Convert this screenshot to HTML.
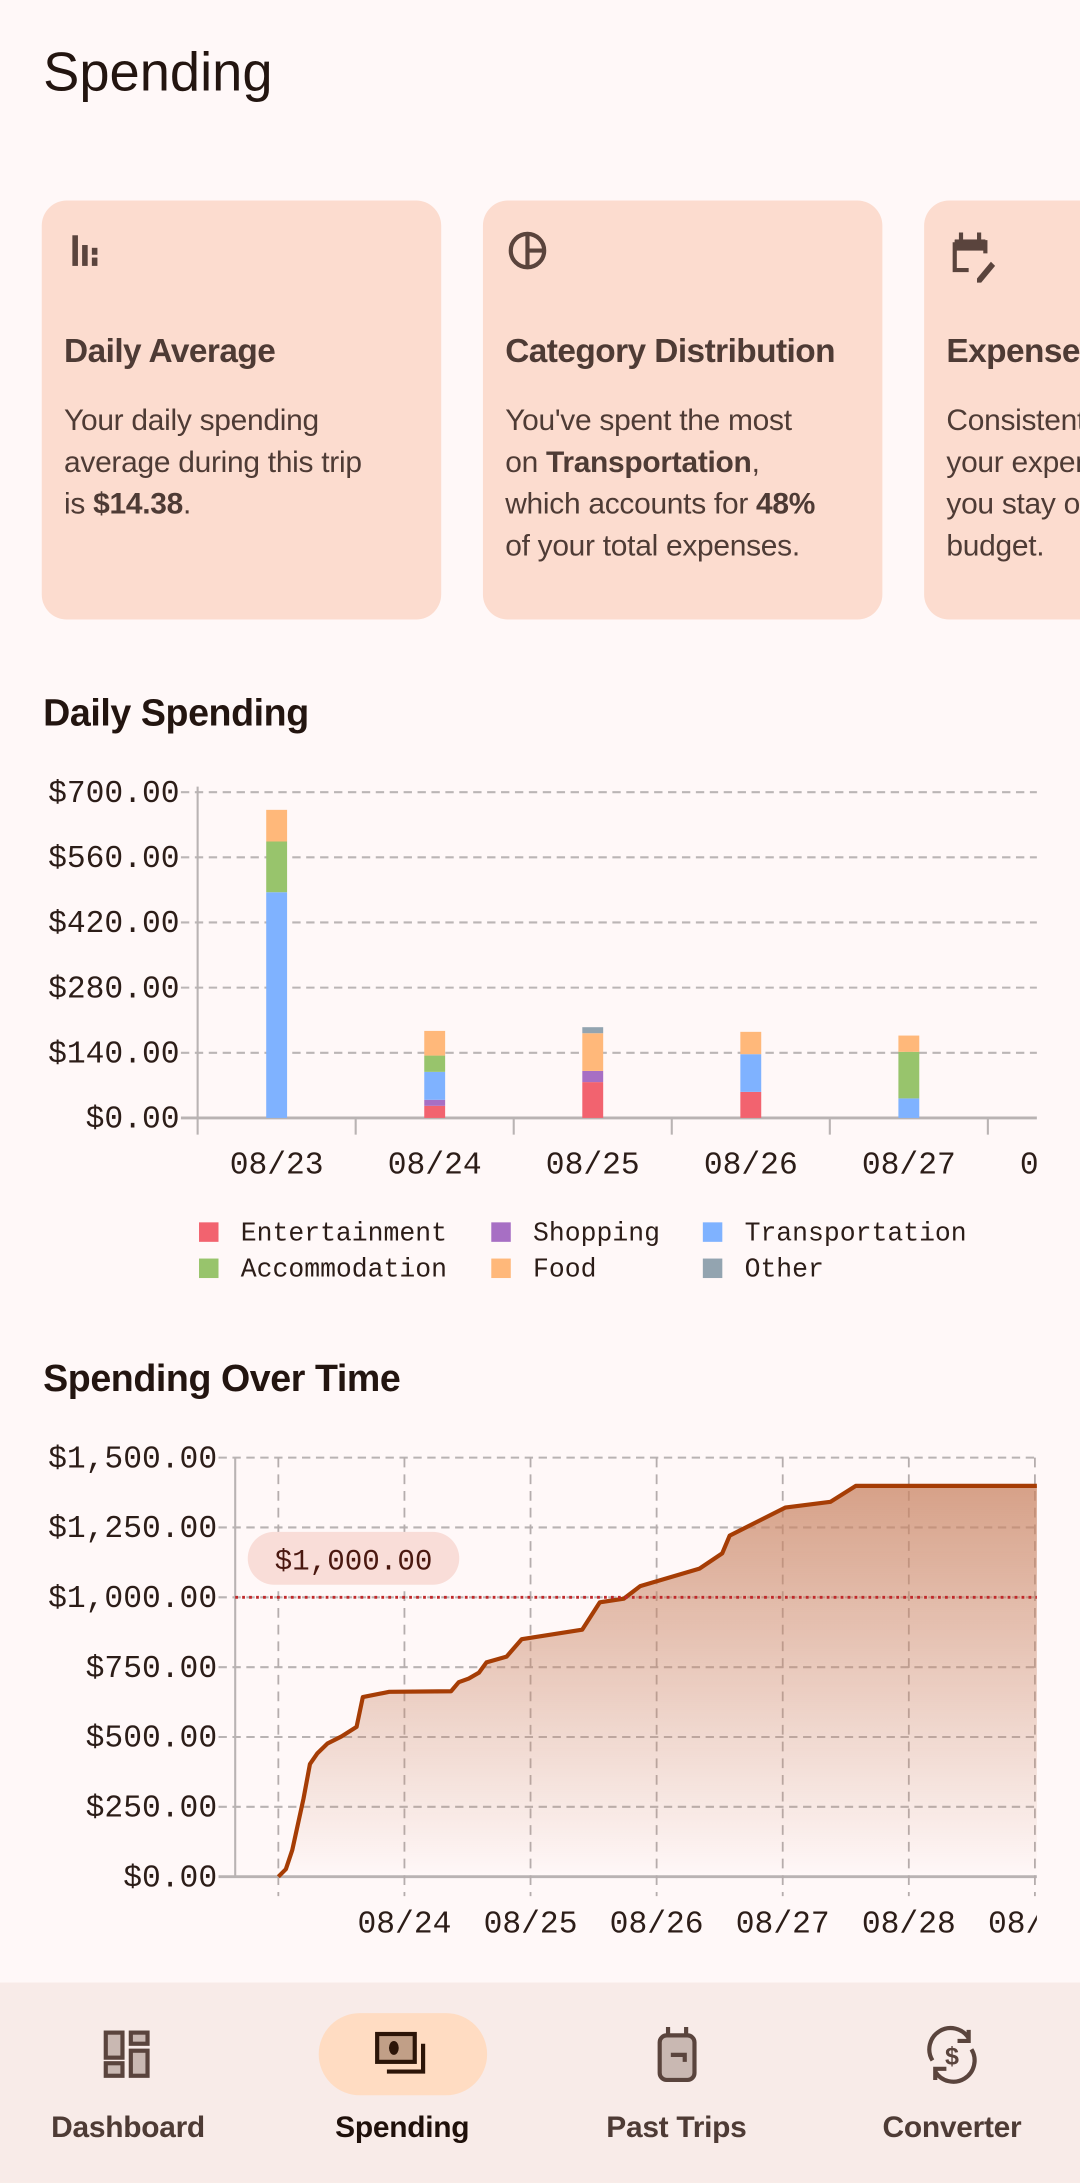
<!DOCTYPE html>
<html><head><meta charset="utf-8">
<style>
html,body{margin:0;padding:0;background:#fff8f8;}
body{width:1080px;height:2183px;overflow:hidden;position:relative;}
#wrap{position:absolute;left:0;top:0;width:776px;height:1568px;overflow:hidden;transform:scale(1.39175,1.3922);transform-origin:0 0;font-family:"Liberation Sans",sans-serif;color:#3a2a25;}
.abs{position:absolute;}
.card{position:absolute;top:144px;width:287px;height:301px;background:#fcdccf;border-radius:18px;overflow:hidden;}
.card h3{position:absolute;left:16px;top:95px;margin:0;font-size:24px;font-weight:bold;color:#4e3b35;white-space:nowrap;letter-spacing:-0.4px}
.card p{position:absolute;left:16px;top:143px;margin:0;font-size:21.5px;line-height:30px;color:#4e3b35;width:290px;white-space:nowrap;letter-spacing:-0.2px}
.card svg{position:absolute;left:16px;top:20px}
.sec{position:absolute;left:31px;font-size:27px;font-weight:bold;color:#231510;margin:0;letter-spacing:-0.3px}
.nav{position:absolute;left:0;top:1424px;width:776px;height:144px;background:#f8ebe8}
.ni{position:absolute;top:1516px;font-size:21.5px;font-weight:bold;color:#4e3b35;transform:translateX(-50%);white-space:nowrap;letter-spacing:-0.2px}
</style></head><body>
<div id="wrap">
<div class="abs" style="left:31px;top:31px;font-size:39px;color:#231510">Spending</div>

<div class="card" style="left:30px">
<svg width="32" height="32" viewBox="0 0 32 32"><g fill="#5a443d"><rect x="6" y="5" width="4" height="22"/><rect x="13" y="12" width="4" height="15"/><rect x="20" y="14" width="4" height="5"/><rect x="20" y="21" width="4" height="6"/></g></svg>
<h3>Daily Average</h3>
<p>Your daily spending<br>average during this trip<br>is <b>$14.38</b>.</p>
</div>
<div class="card" style="left:347px">
<svg width="32" height="32" viewBox="0 0 32 32"><circle cx="16" cy="16" r="12" fill="none" stroke="#5a443d" stroke-width="3"/><line x1="16" y1="4" x2="16" y2="28" stroke="#5a443d" stroke-width="3"/><line x1="16" y1="16" x2="28" y2="16" stroke="#5a443d" stroke-width="3"/></svg>
<h3>Category Distribution</h3>
<p>You've spent the most<br>on <b>Transportation</b>,<br>which accounts for <b>48%</b><br>of your total expenses.</p>
</div>
<div class="card" style="left:664px">
<svg width="40" height="40" viewBox="0 0 40 40"><g fill="none" stroke="#5a443d" stroke-width="3"><path d="M6 10h22v8M6 10v20h10"/></g><rect x="6" y="8" width="22" height="8" fill="#5a443d"/><rect x="9" y="3" width="3" height="7" fill="#5a443d"/><rect x="22" y="3" width="3" height="7" fill="#5a443d"/><path d="M22 36l10-12 3 3-10 12h-3z" fill="#5a443d"/></svg>
<h3>Expense Tracking</h3>
<p>Consistently tracking<br>your expenses helps<br>you stay on your<br>budget.</p>
</div>

<div class="sec" style="top:497px">Daily Spending</div>
<svg class="abs" id="bar" style="left:0;top:540px" width="776" height="400"></svg>

<div class="sec" style="top:975px">Spending Over Time</div>
<svg class="abs" id="line" style="left:0;top:1030px" width="776" height="380"></svg>

<div class="nav"></div>
<div class="abs" style="left:229px;top:1446px;width:121px;height:59px;border-radius:30px;background:#ffdcc2"></div>
<svg class="abs" style="left:72px;top:1456px" width="40" height="40" viewBox="0 0 40 40"><g fill="#c9b8b2" stroke="#5a443d" stroke-width="3"><rect x="4" y="4" width="12" height="18"/><rect x="22" y="4" width="12" height="8"/><rect x="4" y="26" width="12" height="9"/><rect x="22" y="17" width="12" height="18"/></g></svg>
<svg class="abs" style="left:268px;top:1458px" width="44" height="40" viewBox="0 0 44 40"><rect x="3" y="3" width="27" height="20" fill="#c19f87" stroke="#2c1508" stroke-width="3"/><ellipse cx="15" cy="13" rx="3.5" ry="5" fill="#2c1508"/><path d="M36 10v20H10" fill="none" stroke="#2c1508" stroke-width="3"/></svg>
<svg class="abs" style="left:468px;top:1454px" width="40" height="44" viewBox="0 0 40 44"><rect x="6" y="8" width="25" height="32" rx="5" fill="#c9b8b2" stroke="#5a443d" stroke-width="3"/><path d="M12 8V2M25 8V2" stroke="#5a443d" stroke-width="3"/><path d="M14 22h10v5" fill="none" stroke="#5a443d" stroke-width="3"/></svg>
<svg class="abs" style="left:662px;top:1454px" width="44" height="44" viewBox="0 0 44 44"><g fill="none" stroke="#5a443d" stroke-width="3"><path d="M8 26A14 14 0 0 1 34 10"/><path d="M36 18A14 14 0 0 1 10 34"/><path d="M34 4v8h-8M10 40v-8h8"/></g><text x="22" y="29" font-size="18" font-weight="bold" text-anchor="middle" fill="#5a443d" font-family="Liberation Sans">$</text></svg>
<div class="ni" style="left:92px">Dashboard</div>
<div class="ni" style="left:289px;color:#1f100a">Spending</div>
<div class="ni" style="left:486px">Past Trips</div>
<div class="ni" style="left:684px">Converter</div>
</div>

<script>
const NS="http://www.w3.org/2000/svg";
// ---- Daily spending data ----
const barDays=["08/23","08/24","08/25","08/26","08/27","08/28"];
const categories=["Entertainment","Shopping","Transportation","Accommodation","Food","Other"];
const catColors=["#f2636f","#a76fc4","#7fb2ff","#98c46c","#ffb87a","#93a4b0"];
const entertainment=[0,26,77,56,0,0];
const shopping=[0,13,24,0,0,0];
const transportation=[485,60,0,81,42,0];
const accommodation=[109,35,0,0,100,0];
const food=[68,53,81,48,35,0];
const other=[0,0,13,0,0,0];
const barTicks=[0,140,280,420,560,700];
const barTickLabels=["$0.00","$140.00","$280.00","$420.00","$560.00","$700.00"];

function mk(parent,tag,attrs){const e=document.createElementNS(NS,tag);for(const k in attrs)e.setAttribute(k,attrs[k]);parent.appendChild(e);return e;}
const MONO='Liberation Mono, DejaVu Sans Mono, monospace';

(function(){
const svg=document.getElementById('bar');
const x0=142,x1=745,yTop=29,yBot=263,ymax=700;
const bw=(x1-x0)/5.31;
const Y=v=>yBot-(v/ymax)*(yBot-yTop);
const X=i=>x0+bw*(i+0.5);
const defs=mk(svg,'defs',{});
const cp=mk(defs,'clipPath',{id:'cb'});
mk(cp,'rect',{x:0,y:0,width:745,height:400});
barTicks.forEach((t,i)=>{
  const g=mk(svg,'line',{x1:x0-12,x2:x1,y1:Y(t),y2:Y(t),stroke:i==0?'#b9b3b3':'#bbb5b5','stroke-width':i==0?2:1.5,'stroke-dasharray':i==0?'':'6 4'});
  
  
  const tx=mk(svg,'text',{x:129,y:Y(t)+7,'text-anchor':'end','font-size':22.5,fill:'#2c1d18','font-family':MONO});
  tx.textContent=barTickLabels[i];
  
  
});
mk(svg,'line',{x1:x0,x2:x0,y1:yTop-4,y2:yBot+12,stroke:'#b9b3b3','stroke-width':1.5});
const series=[entertainment,shopping,transportation,accommodation,food,other];
const lg=mk(svg,'g',{'clip-path':'url(#cb)'});
barDays.forEach((d,i)=>{
  const tk=mk(svg,'line',{x1:x0+bw*(i+1),x2:x0+bw*(i+1),y1:yBot,y2:yBot+12,stroke:'#b9b3b3','stroke-width':1.5});
  
  
  const lb=mk(lg,'text',{x:X(i),y:yBot+40,'text-anchor':'middle','font-size':22.5,fill:'#2c1d18','font-family':MONO});
  lb.textContent=d;
  
  
  let acc=0;
  series.forEach((s,k)=>{
    const v=s[i]; if(!v)return;
    const r=mk(svg,'rect',{x:X(i)-7.5,y:Y(acc+v),width:15,height:Y(acc)-Y(acc+v),fill:catColors[k]});
    
    
    acc+=v;
  });
});
categories.forEach((c,k)=>{
  const col=k%3,row=Math.floor(k/3);
  const lx=[143,353,505][col], ly=338+row*26;
  const sw=mk(svg,'rect',{x:lx,y:ly,width:14,height:14,fill:catColors[k]});
  
  
  const t=mk(svg,'text',{x:lx+30,y:ly+13,'font-size':19,fill:'#2c1d18','font-family':MONO});
  t.textContent=c;
  
  
});
})();

// ---- Spending over time data ----
const lineDays=["08/23","08/24","08/25","08/26","08/27","08/28","08/29"];
const cumDayOffsets=[0,0.06,0.11,0.2,0.25,0.31,0.39,0.5,0.62,0.67,0.88,1.37,1.43,1.51,1.59,1.65,1.81,1.93,2.41,2.55,2.74,2.87,3.34,3.52,3.58,4.02,4.38,4.58,6.02];
const cumValues=[0,27,95,280,403,442,477,502,536,643,662,664,696,709,730,767,788,850,884,982,995,1040,1103,1157,1221,1321,1342,1399,1399];
const lineTicks=[0,250,500,750,1000,1250,1500];
const lineTickLabels=["$0.00","$250.00","$500.00","$750.00","$1,000.00","$1,250.00","$1,500.00"];
const budget=1000;
const budgetLabel="$1,000.00";

(function(){
const svg=document.getElementById('line');
const x0=169,x1=745,yTop=17,yBot=318,ymax=1500,dx0=200,dw=90.6;
const Y=v=>yBot-(v/ymax)*(yBot-yTop);
const X=d=>dx0+d*dw;
const defs=mk(svg,'defs',{});
const gr=mk(defs,'linearGradient',{id:'gf',x1:0,y1:0,x2:0,y2:1});
mk(gr,'stop',{offset:0,'stop-color':'#c98463','stop-opacity':0.75});
mk(gr,'stop',{offset:1,'stop-color':'#c98463','stop-opacity':0});
const cp=mk(defs,'clipPath',{id:'cl'});
mk(cp,'rect',{x:0,y:0,width:745,height:380});
lineTicks.forEach((t,i)=>{
  const g=mk(svg,'line',{x1:x0-12,x2:x1,y1:Y(t),y2:Y(t),stroke:'#b9b3b3','stroke-width':i==0?2:1.5,'stroke-dasharray':i==0?'':'6 4'});
  
  
  const tx=mk(svg,'text',{x:156,y:Y(t)+7,'text-anchor':'end','font-size':22.5,fill:'#2c1d18','font-family':MONO});
  tx.textContent=lineTickLabels[i];
  
  
});
mk(svg,'line',{x1:x0,x2:x0,y1:yTop,y2:yBot,stroke:'#b9b3b3','stroke-width':1.5});
const lg=mk(svg,'g',{'clip-path':'url(#cl)'});
lineDays.forEach((d,i)=>{
  const vl=mk(svg,'line',{x1:X(i),x2:X(i),y1:yTop,y2:yBot+14,stroke:'#b5adad','stroke-width':1.3,'stroke-dasharray':'7 5'});
  
  
  if(i>0){
    const lb=mk(lg,'text',{x:X(i),y:yBot+40,'text-anchor':'middle','font-size':22.5,fill:'#2c1d18','font-family':MONO});
    lb.textContent=d;
    
    
  }
});
let pts=cumDayOffsets.map((d,i)=>Math.min(X(d),x1).toFixed(1)+','+Y(cumValues[i]).toFixed(1));
const area=mk(svg,'path',{d:'M'+pts.join('L')+'L'+Math.min(X(cumDayOffsets[cumDayOffsets.length-1]),x1)+','+yBot+'L'+X(0)+','+yBot+'Z',fill:'url(#gf)'});


const ln=mk(svg,'path',{d:'M'+pts.join('L'),fill:'none',stroke:'#a63d05','stroke-width':3,'stroke-linejoin':'round'});


const bl=mk(svg,'line',{x1:x0,x2:x1,y1:Y(budget),y2:Y(budget),stroke:'#c0282a','stroke-width':2,'stroke-dasharray':'2 3'});


const pill=mk(svg,'rect',{x:178,y:Y(budget)-47,width:152,height:38,rx:19,fill:'#f9ddd8'});


const pt=mk(svg,'text',{x:254,y:Y(budget)-20,'text-anchor':'middle','font-size':21,fill:'#4a1810','font-family':MONO});
pt.textContent=budgetLabel;


})();
</script>
</body></html>
